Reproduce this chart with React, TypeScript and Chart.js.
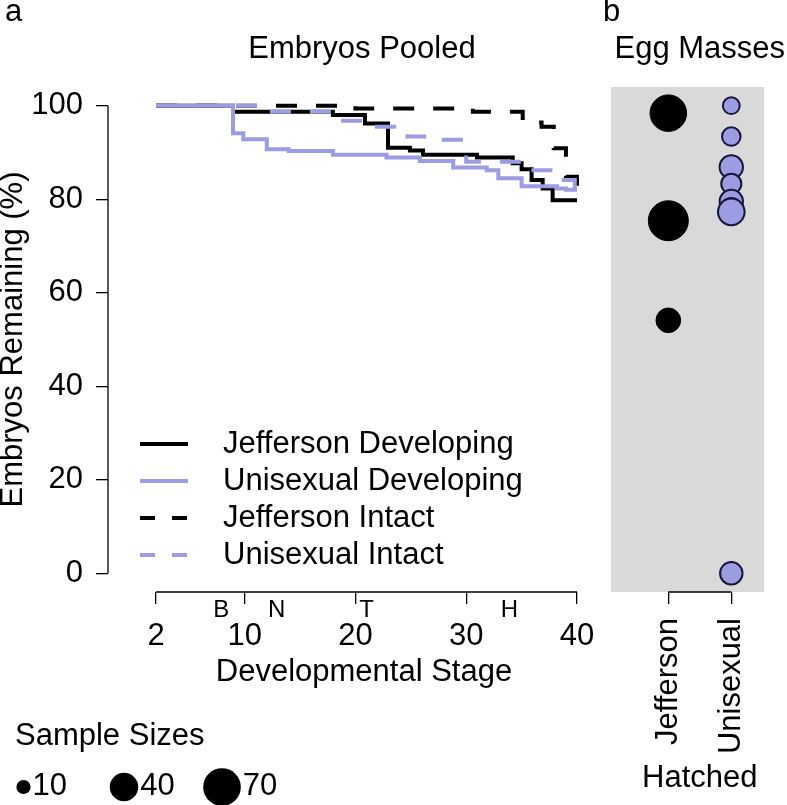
import React, { useEffect, useRef } from "react";
import { Chart, registerables } from "chart.js";

Chart.register(...registerables);

const FONT = "'Liberation Sans', Arial, Helvetica, sans-serif";
const FS = 31;
const BLACK = "#000000";
const LILAC = "#9c9ce2";
const LILAC_EDGE = "#16163a";
const PANEL_GREY = "#d9d9d9";
const R_PER_SQRT_N = 2.25;

// ---------- panel a : embryos pooled ----------
const stageTicks = [2, 10, 20, 30, 40];
const stageLetters = ["B", "N", "T", "H"];
const stageLetterPos = [7.9, 12.9, 21, 33.9];
const pctTicks = [0, 20, 40, 60, 80, 100];

const seriesLabels = [
  "Jefferson Developing",
  "Unisexual Developing",
  "Jefferson Intact",
  "Unisexual Intact",
];

const jeffDevStage = [2, 8.95, 17.97, 20.86, 22.94, 24.92, 26.1, 30.97, 34.2, 35.0, 35.9, 36.9, 37.8, 40];
const jeffDevPct = [100, 98.7, 98.0, 96.2, 91.0, 90.4, 89.5, 88.9, 87.7, 86.4, 84.1, 82.3, 79.8, 79.8];

const uniDevStage = [2, 8.95, 9.88, 12.0, 13.97, 17.97, 22.8, 25.83, 28.83, 31.85, 32.9, 35.0, 38.2, 39.0, 40];
const uniDevPct = [100, 94.1, 92.8, 90.7, 90.3, 89.5, 88.9, 88.2, 86.8, 86.2, 84.5, 82.8, 82.3, 82.0, 82.0];

const jeffIntStage = [2, 20, 30.6, 35.1, 36.8, 37.9, 39.0, 40];
const jeffIntPct = [100, 99.4, 98.7, 96.4, 95.5, 90.9, 84.8, 82.0];

const uniIntStage = [2, 12.0, 18.0, 20.9, 23.5, 24.7, 26.5, 30.0, 35.0, 38.5, 39.8, 40];
const uniIntPct = [100, 98.7, 96.8, 95.5, 94.1, 93.4, 92.7, 88.0, 86.2, 84.1, 82.0, 82.0];

// ---------- panel b : egg masses ----------
const hatchGroups = ["Jefferson", "Unisexual"];
const jeffHatchPct = [98.4, 75.4, 54.1];
const jeffHatchN = [66, 79, 30];
const uniHatchPct = [100, 93.4, 86.9, 83.3, 79.5, 78.1, 77.3, 0];
const uniHatchN = [14, 17, 27, 20, 27, 20, 35, 25];
const sampleLegendN = [10, 40, 70];

const radiusFor = (n: number) => R_PER_SQRT_N * Math.sqrt(n);

const lineStyles = [
  { color: BLACK, dash: [] as number[], order: 3 },
  { color: LILAC, dash: [] as number[], order: 2 },
  { color: BLACK, dash: [21, 19], order: 1 },
  { color: LILAC, dash: [21, 19], order: 0 },
];

const seriesStages = [jeffDevStage, uniDevStage, jeffIntStage, uniIntStage];
const seriesPcts = [jeffDevPct, uniDevPct, jeffIntPct, uniIntPct];

const panelAPlugin = {
  id: "panelA",
  afterDraw(chart: any) {
    const { ctx, chartArea, scales } = chart;
    const x = scales.x;
    const y = scales.y;
    ctx.save();
    ctx.strokeStyle = BLACK;
    ctx.lineWidth = 1.3;
    // y axis line between first and last tick
    ctx.beginPath();
    ctx.moveTo(chartArea.left, y.getPixelForValue(pctTicks[0]));
    ctx.lineTo(chartArea.left, y.getPixelForValue(pctTicks[pctTicks.length - 1]));
    ctx.stroke();
    // x axis bracket line
    ctx.beginPath();
    ctx.moveTo(x.getPixelForValue(stageTicks[0]), chartArea.bottom);
    ctx.lineTo(x.getPixelForValue(stageTicks[stageTicks.length - 1]), chartArea.bottom);
    ctx.stroke();

    ctx.fillStyle = BLACK;
    // stage letters
    ctx.font = `24px ${FONT}`;
    ctx.textAlign = "center";
    ctx.textBaseline = "middle";
    stageLetters.forEach((t, i) => {
      ctx.fillText(t, x.getPixelForValue(stageLetterPos[i]), chartArea.bottom + 18);
    });

    // panel letter and title
    ctx.font = `${FS}px ${FONT}`;
    ctx.textBaseline = "alphabetic";
    ctx.textAlign = "left";
    ctx.fillText("a", 5, 21);
    ctx.textAlign = "center";
    ctx.fillText("Embryos Pooled", 362, 58);

    // legend inside plot
    const rowY = [444, 481, 518, 555];
    seriesLabels.forEach((lab, i) => {
      const st = lineStyles[i];
      ctx.save();
      ctx.strokeStyle = st.color;
      ctx.lineWidth = 4;
      ctx.setLineDash(st.dash.length ? [15, 17] : []);
      ctx.beginPath();
      ctx.moveTo(140, rowY[i]);
      ctx.lineTo(188, rowY[i]);
      ctx.stroke();
      ctx.restore();
      ctx.textAlign = "left";
      ctx.textBaseline = "middle";
      ctx.fillText(lab, 223, rowY[i]);
    });

    // sample size legend
    ctx.textAlign = "left";
    ctx.textBaseline = "alphabetic";
    ctx.fillText("Sample Sizes", 15, 745);
    const cx = [23.5, 124, 222];
    sampleLegendN.forEach((n, i) => {
      const r = radiusFor(n);
      ctx.beginPath();
      ctx.arc(cx[i], 787, r, 0, Math.PI * 2);
      ctx.fill();
      ctx.textBaseline = "middle";
      ctx.fillText(String(n), cx[i] + r + 2, 786);
    });
    ctx.restore();
  },
};

const panelBPlugin = {
  id: "panelB",
  beforeDatasetsDraw(chart: any) {
    const { ctx, chartArea } = chart;
    ctx.save();
    ctx.fillStyle = PANEL_GREY;
    ctx.fillRect(chartArea.left, chartArea.top, chartArea.right - chartArea.left, chartArea.bottom - chartArea.top);
    ctx.restore();
  },
  afterDraw(chart: any) {
    const { ctx, chartArea, scales } = chart;
    const x = scales.x;
    ctx.save();
    ctx.strokeStyle = BLACK;
    ctx.lineWidth = 1.3;
    ctx.beginPath();
    ctx.moveTo(x.getPixelForValue(1), chartArea.bottom);
    ctx.lineTo(x.getPixelForValue(hatchGroups.length), chartArea.bottom);
    ctx.stroke();
    ctx.fillStyle = BLACK;
    ctx.font = `${FS}px ${FONT}`;
    ctx.textBaseline = "alphabetic";
    ctx.textAlign = "left";
    ctx.fillText("b", 13, 21);
    ctx.textAlign = "center";
    const mid = x.getPixelForValue((1 + hatchGroups.length) / 2);
    ctx.fillText("Egg Masses", mid, 58);
    ctx.fillText("Hatched", mid, 787);
    ctx.restore();
  },
};

export default function App() {
  const leftRef = useRef<HTMLCanvasElement>(null);
  const rightRef = useRef<HTMLCanvasElement>(null);

  useEffect(() => {
    const tickFont = { family: FONT, size: FS };
    const left = new Chart(leftRef.current as HTMLCanvasElement, {
      type: "line",
      data: {
        datasets: seriesLabels.map((label, i) => ({
          label,
          data: seriesStages[i].map((s, j) => ({ x: s, y: seriesPcts[i][j] })),
          borderColor: lineStyles[i].color,
          borderDash: lineStyles[i].dash,
          borderWidth: 4,
          borderCapStyle: "butt",
          stepped: true,
          pointRadius: 0,
          fill: false,
          order: lineStyles[i].order,
        })),
      } as any,
      options: {
        responsive: false,
        animation: false,
        events: [],
        layout: { padding: { left: 0, right: 20, top: 87, bottom: 0 } },
        plugins: { legend: { display: false }, tooltip: { enabled: false } },
        scales: {
          x: {
            type: "linear",
            min: -2.332,
            max: 43.88,
            afterBuildTicks: (s: any) => {
              s.ticks = stageTicks.map((v) => ({ value: v }));
            },
            afterFit: (s: any) => {
              s.height = 805 - 592;
            },
            ticks: {
              autoSkip: false,
              maxRotation: 0,
              minRotation: 0,
              padding: 14,
              color: BLACK,
              font: tickFont,
              callback: (v: any) => String(v),
            },
            grid: { drawOnChartArea: false, drawTicks: true, tickLength: 12, color: BLACK, lineWidth: 1.3 },
            border: { display: false },
            title: {
              display: true,
              text: "Developmental Stage",
              color: BLACK,
              font: { family: FONT, size: FS },
              padding: { top: 0, bottom: 114 },
            },
          },
          y: {
            type: "linear",
            min: -4,
            max: 104,
            afterBuildTicks: (s: any) => {
              s.ticks = pctTicks.map((v) => ({ value: v }));
            },
            afterFit: (s: any) => {
              s.width = 108;
            },
            ticks: {
              padding: 13,
              color: BLACK,
              font: tickFont,
              callback: (v: any) => String(v),
            },
            grid: { drawOnChartArea: false, drawTicks: true, tickLength: 12, color: BLACK, lineWidth: 1.3 },
            border: { display: false },
            title: {
              display: true,
              text: "Embryos Remaining (%)",
              color: BLACK,
              font: { family: FONT, size: FS },
              padding: { top: -5, bottom: 0 },
            },
          },
        },
      } as any,
      plugins: [panelAPlugin],
    });

    const right = new Chart(rightRef.current as HTMLCanvasElement, {
      type: "bubble",
      data: {
        datasets: [
          {
            label: hatchGroups[0],
            data: jeffHatchPct.map((p, i) => ({ x: 1, y: p, r: radiusFor(jeffHatchN[i]) })),
            backgroundColor: BLACK,
            borderColor: BLACK,
            borderWidth: 1,
          },
          {
            label: hatchGroups[1],
            data: uniHatchPct.map((p, i) => ({ x: 2, y: p, r: radiusFor(uniHatchN[i]) })),
            backgroundColor: LILAC,
            borderColor: LILAC_EDGE,
            borderWidth: 2,
          },
        ],
      } as any,
      options: {
        responsive: false,
        animation: false,
        events: [],
        layout: { padding: { left: 15, right: 19, top: 87, bottom: 0 } },
        plugins: { legend: { display: false }, tooltip: { enabled: false } },
        scales: {
          x: {
            type: "linear",
            min: 0.0896,
            max: 2.522,
            afterBuildTicks: (s: any) => {
              s.ticks = hatchGroups.map((_, i) => ({ value: i + 1 }));
            },
            afterFit: (s: any) => {
              s.height = 805 - 592;
            },
            ticks: {
              autoSkip: false,
              minRotation: 90,
              maxRotation: 90,
              padding: 14,
              color: BLACK,
              font: tickFont,
              callback: (v: any) => hatchGroups[Math.round(v) - 1],
            },
            grid: { drawOnChartArea: false, drawTicks: true, tickLength: 12, color: BLACK, lineWidth: 1.3 },
            border: { display: false },
          },
          y: { type: "linear", display: false, min: -4, max: 104 },
        },
      } as any,
      plugins: [panelBPlugin],
    });

    return () => {
      left.destroy();
      right.destroy();
    };
  }, []);

  return (
    <div style={{ position: "absolute", left: 0, top: 0, width: 787, height: 805, background: "#fff", overflow: "hidden" }}>
      <canvas ref={leftRef} width={640} height={805} style={{ position: "absolute", left: 0, top: 0 }} />
      <canvas ref={rightRef} width={197} height={805} style={{ position: "absolute", left: 590, top: 0 }} />
    </div>
  );
}
